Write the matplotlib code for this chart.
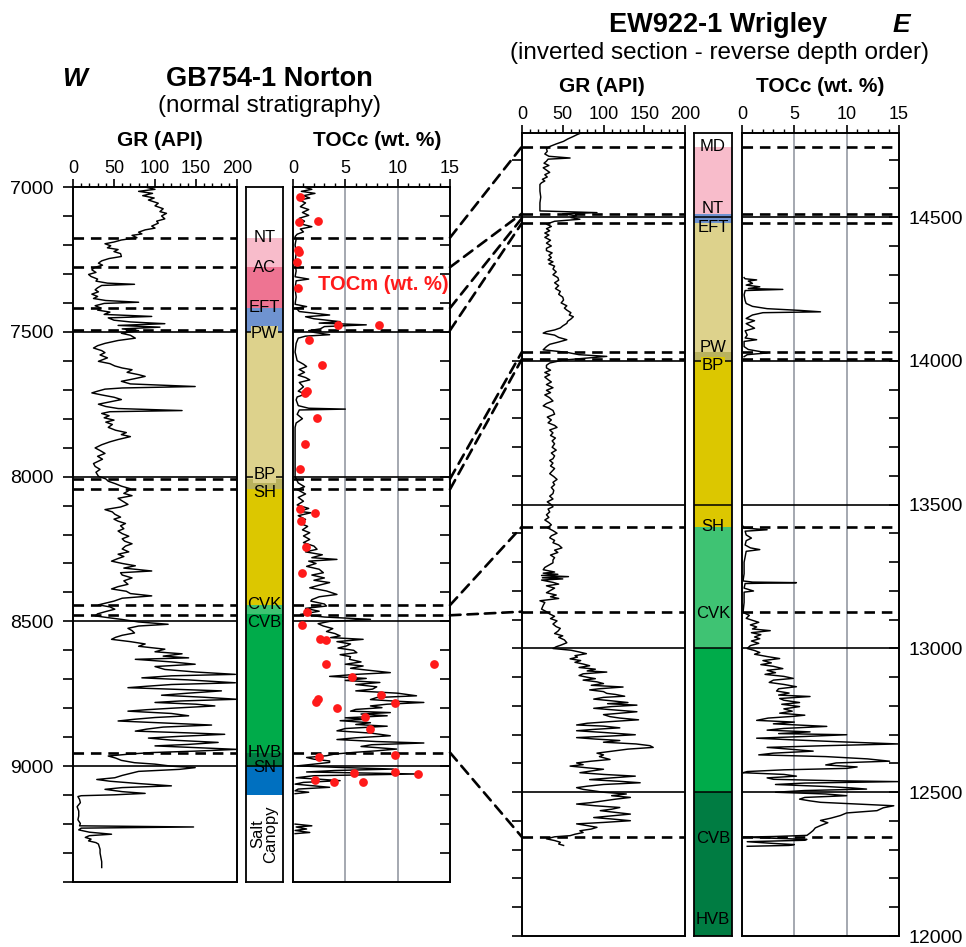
import matplotlib
matplotlib.use("Agg")
import matplotlib.pyplot as plt
from matplotlib import font_manager
from matplotlib.patches import ConnectionPatch
from matplotlib.ticker import MultipleLocator, FuncFormatter
import numpy as np

plt.rcParams['font.family'] = ['Liberation Sans', 'DejaVu Sans']
_names = {f.name for f in font_manager.fontManager.ttflist}
if 'Liberation Sans Narrow' in _names:
    NARROW, NSCALE = 'Liberation Sans Narrow', 1.15
else:
    NARROW, NSCALE = 'Liberation Sans', 1.0

# ---------------- data: GB754-1 Norton (left well) ----------------
LEFT_GR = [
    (7000, 88), (7008, 100), (7015, 80), (7022, 97), (7030, 85), (7038, 99), (7045, 92), (7056, 104),
    (7065, 100), (7075, 110), (7085, 106), (7091, 114), (7100, 108), (7110, 112), (7118, 102), (7125, 104),
    (7135, 96), (7142, 100), (7148, 88), (7156, 80), (7162, 84), (7167, 72), (7175, 78), (7183, 59),
    (7190, 50), (7196, 39), (7203, 46), (7210, 42), (7216, 55), (7223, 50), (7230, 58), (7240, 59),
    (7247, 44), (7255, 35), (7263, 31), (7270, 36), (7278, 26), (7286, 23), (7295, 28), (7302, 19),
    (7309, 22), (7318, 30), (7325, 28), (7332, 42), (7336, 75), (7340, 35), (7348, 30), (7355, 27),
    (7362, 31), (7370, 23), (7378, 30), (7385, 25), (7392, 40), (7398, 80), (7402, 38), (7410, 27),
    (7418, 34), (7425, 30), (7432, 45), (7440, 38), (7447, 96), (7452, 43), (7460, 50), (7466, 70),
    (7472, 112), (7478, 55), (7484, 106), (7490, 60), (7496, 80), (7505, 59), (7512, 70), (7522, 76),
    (7530, 55), (7540, 39), (7548, 30), (7556, 25), (7565, 35), (7572, 39), (7580, 33), (7590, 42),
    (7602, 31), (7610, 45), (7618, 51), (7625, 60), (7631, 72), (7640, 66), (7648, 80), (7654, 88),
    (7662, 75), (7671, 59), (7680, 70), (7689, 149), (7694, 60), (7698, 39), (7705, 30), (7711, 23),
    (7718, 35), (7726, 50), (7734, 59), (7742, 45), (7750, 31), (7758, 40), (7765, 55), (7772, 133),
    (7776, 45), (7782, 35), (7790, 44), (7797, 38), (7805, 50), (7812, 40), (7820, 48), (7830, 43),
    (7840, 52), (7848, 65), (7855, 59), (7862, 70), (7872, 55), (7880, 45), (7890, 35), (7901, 27),
    (7910, 33), (7920, 39), (7930, 30), (7940, 36), (7947, 31), (7955, 25), (7965, 27), (7975, 33),
    (7985, 28), (7999, 31), (8008, 40), (8016, 43), (8025, 52), (8033, 59), (8042, 70), (8050, 67),
    (8058, 62), (8066, 72), (8075, 55), (8084, 60), (8096, 67), (8105, 58), (8114, 39), (8122, 48),
    (8130, 51), (8140, 58), (8147, 50), (8154, 55), (8162, 64), (8170, 58), (8180, 62), (8188, 55),
    (8197, 60), (8206, 68), (8215, 60), (8223, 63), (8232, 72), (8240, 64), (8250, 60), (8260, 68),
    (8268, 55), (8276, 62), (8284, 54), (8292, 47), (8300, 60), (8308, 76), (8316, 62), (8326, 96),
    (8332, 58), (8340, 60), (8350, 72), (8360, 62), (8372, 67), (8380, 55), (8388, 47), (8396, 65),
    (8404, 70), (8412, 96), (8420, 60), (8430, 50), (8437, 40), (8443, 31), (8450, 45), (8458, 51),
    (8466, 40), (8474, 30), (8481, 27), (8488, 45), (8493, 59), (8502, 80), (8510, 116), (8516, 80),
    (8524, 67), (8532, 72), (8540, 75), (8548, 60), (8555, 52), (8562, 47), (8570, 70), (8578, 88),
    (8586, 80), (8596, 112), (8605, 100), (8612, 133), (8620, 110), (8626, 141), (8631, 76), (8640, 120),
    (8648, 149), (8656, 100), (8666, 112), (8675, 150), (8683, 198), (8688, 120), (8695, 84), (8702, 140),
    (8712, 198), (8718, 120), (8724, 90), (8729, 67), (8735, 130), (8740, 181), (8748, 140), (8755, 108),
    (8762, 160), (8769, 200), (8775, 130), (8780, 100), (8786, 150), (8792, 173), (8800, 120), (8805, 90),
    (8810, 67), (8818, 120), (8826, 141), (8832, 100), (8838, 75), (8844, 55), (8852, 120), (8858, 169),
    (8865, 110), (8872, 90), (8879, 76), (8885, 140), (8890, 185), (8897, 130), (8903, 92), (8910, 120),
    (8918, 177), (8925, 140), (8930, 100), (8936, 150), (8942, 200), (8948, 150), (8953, 96), (8958, 70),
    (8965, 43), (8972, 52), (8980, 59), (8988, 75), (8993, 100), (9000, 120), (9005, 149), (9011, 130),
    (9018, 80), (9025, 70), (9032, 60), (9040, 51), (9046, 29), (9052, 45), (9060, 80), (9068, 120),
    (9074, 60), (9080, 39), (9088, 60), (9094, 88), (9099, 50), (9102, 10), (9105, 6), (9115, 8),
    (9126, 9), (9140, 5), (9155, 7), (9172, 7), (9185, 6), (9198, 9), (9206, 8), (9210, 147),
    (9214, 10), (9220, 7), (9228, 20), (9235, 47), (9240, 20), (9246, 15), (9252, 22), (9258, 19),
    (9264, 28), (9269, 31), (9278, 32), (9287, 33), (9300, 33), (9315, 34), (9330, 35), (9350, 35),
]

LEFT_TOC = [
    (7000, 1.0), (7008, 1.8), (7015, 0.8), (7022, 2.1), (7030, 1.0), (7038, 1.6), (7045, 0.6), (7055, 1.2),
    (7068, 0.7), (7078, 1.5), (7088, 0.9), (7098, 1.5), (7108, 0.6), (7118, 1.1), (7128, 0.8), (7137, 1.8),
    (7145, 0.7), (7155, 1.0), (7163, 0.4), (7171, 0.2), (7180, 0.3), (7200, 0.2), (7230, 0.3), (7260, 0.2),
    (7290, 0.3), (7310, 0.2), (7318, 1.5), (7324, 0.3), (7350, 0.2), (7380, 0.3), (7405, 0.2), (7413, 1.3),
    (7418, 0.3), (7430, 0.6), (7442, 3.5), (7448, 1.2), (7455, 2.0), (7465, 4.5), (7470, 2.5), (7476, 7.0),
    (7482, 3.0), (7490, 2.6), (7496, 1.5), (7502, 2.0), (7510, 3.5), (7515, 1.2), (7522, 0.5), (7540, 0.3),
    (7570, 0.2), (7600, 0.4), (7612, 1.0), (7620, 1.3), (7630, 0.6), (7640, 1.1), (7650, 0.5), (7658, 1.2),
    (7666, 1.6), (7675, 0.6), (7690, 1.0), (7705, 0.5), (7715, 1.2), (7725, 0.4), (7735, 0.3), (7755, 0.5),
    (7764, 1.5), (7767, 5.0), (7770, 0.6), (7785, 0.4), (7800, 0.9), (7815, 0.3), (7830, 0.2), (7880, 0.2),
    (7950, 0.2), (8000, 0.2), (8022, 0.5), (8035, 1.1), (8045, 0.4), (8060, 1.2), (8072, 0.5), (8085, 1.0),
    (8098, 0.4), (8110, 1.5), (8120, 0.6), (8125, 1.7), (8135, 0.5), (8148, 1.2), (8160, 0.6), (8172, 1.4),
    (8184, 0.9), (8194, 1.6), (8205, 1.0), (8217, 1.6), (8228, 1.0), (8240, 2.0), (8251, 2.3), (8260, 1.2),
    (8270, 2.8), (8280, 1.8), (8286, 4.2), (8292, 1.5), (8300, 2.2), (8310, 1.3), (8320, 2.5), (8332, 2.9),
    (8340, 1.8), (8350, 3.0), (8358, 2.0), (8366, 3.5), (8375, 2.5), (8384, 1.6), (8395, 3.2), (8407, 4.2),
    (8415, 2.5), (8425, 1.8), (8430, 1.7), (8440, 3.0), (8447, 3.2), (8455, 1.2), (8465, 2.5), (8476, 0.7),
    (8485, 3.0), (8493, 7.4), (8500, 3.5), (8508, 2.4), (8516, 2.9), (8525, 3.8), (8535, 3.2), (8542, 4.0),
    (8550, 4.5), (8556, 3.6), (8562, 6.7), (8570, 4.2), (8578, 5.5), (8585, 5.1), (8592, 4.3), (8600, 5.8),
    (8608, 6.1), (8615, 4.5), (8622, 5.5), (8631, 5.4), (8640, 6.5), (8648, 5.0), (8654, 6.7), (8662, 5.5),
    (8670, 7.5), (8677, 9.3), (8683, 6.0), (8690, 3.5), (8697, 7.0), (8704, 5.0), (8711, 8.3), (8718, 6.0),
    (8726, 8.0), (8734, 7.6), (8740, 6.0), (8748, 10.0), (8757, 11.8), (8763, 8.0), (8770, 7.4), (8776, 10.0),
    (8780, 12.5), (8786, 9.0), (8792, 7.4), (8798, 8.5), (8804, 6.0), (8810, 5.5), (8815, 9.3), (8820, 6.5),
    (8826, 9.0), (8833, 5.0), (8838, 7.0), (8843, 4.5), (8850, 7.4), (8856, 6.0), (8862, 9.0), (8870, 5.0),
    (8878, 4.2), (8886, 7.5), (8895, 9.3), (8902, 6.0), (8908, 4.2), (8915, 8.0), (8920, 12.5), (8926, 7.5),
    (8932, 6.5), (8941, 9.9), (8947, 8.0), (8952, 6.0), (8958, 4.0), (8964, 3.2), (8970, 1.3), (8976, 2.0),
    (8982, 3.5), (8987, 3.5), (8993, 2.0), (8999, 0.4), (9005, 5.0), (9010, 9.6), (9015, 4.0), (9020, 1.3),
    (9027, 11.8), (9033, 2.0), (9040, 0.3), (9045, 2.5), (9050, 4.5), (9056, 1.0), (9062, 0.2), (9068, 2.0),
    (9073, 3.5), (9079, 0.5), (9085, 0.2), (9090, 1.5), (9095, 0.2),
]
LEFT_TOC_SALT = [(9200, 0.2), (9206, 1.8), (9210, 0.3), (9217, 1.3), (9222, 0.2), (9229, 1.6), (9233, 0.2)]

LEFT_TOCM = [
    (7033, 0.7), (7122, 0.6), (7118, 2.4), (7217, 0.5), (7223, 0.6), (7258, 0.4), (7350, 0.5), (7476, 4.3),
    (7476, 8.2), (7528, 1.5), (7616, 2.8), (7706, 1.3), (7712, 1.1), (7796, 2.3), (7886, 1.1), (7975, 0.7),
    (8112, 0.7), (8125, 2.1), (8154, 0.8), (8242, 1.2), (8334, 0.9), (8468, 1.3), (8514, 0.9), (8562, 2.6),
    (8565, 3.2), (8648, 3.2), (8646, 13.5), (8692, 5.6), (8755, 8.4), (8778, 2.2), (8769, 2.4), (8782, 9.7),
    (8800, 4.2), (8830, 6.9), (8872, 7.4), (8962, 9.7), (8970, 2.5), (9025, 5.8), (9019, 9.7), (9027, 11.9),
    (9048, 2.1), (9056, 3.9), (9053, 6.7),
]

LEFT_TOPS = [7175, 7277, 7418, 7495, 8008, 8044, 8444, 8479, 8953]
LEFT_UNITS = [  # (top, base, colour)
    (7175, 7277, '#f8bccb'), (7277, 7418, '#ee7492'), (7418, 7500, '#6f93d0'), (7500, 8008, '#ddd28c'),
    (8008, 8044, '#b9b25e'), (8044, 8444, '#dcc700'), (8444, 8503, '#3fc373'), (8503, 8953, '#00ab4a'),
    (8953, 9003, '#007c42'), (9003, 9100, '#0070c0'),
]
# (depth, name, vertical anchor)
LEFT_LABELS = [(7176, 'NT', 'center'), (7279, 'AC', 'center'), (7417, 'EFT', 'center'), (7507, 'PW', 'center'),
               (7993, 'BP', 'center'), (8055, 'SH', 'center'), (8441, 'CVK', 'center'), (8503, 'CVB', 'center'),
               (8977, 'HVB', 'bottom'), (8977, 'SN', 'top')]
LEFT_LINES = [7500, 8000, 8500, 9000]

# ---------------- data: EW922-1 Wrigley (right well) ----------------
RIGHT_GR = [
    (14796, 75), (14788, 68), (14781, 63), (14772, 56), (14764, 51), (14755, 42), (14746, 34), (14738, 30),
    (14729, 31), (14720, 28), (14712, 33), (14706, 59), (14702, 32), (14695, 30), (14688, 27), (14680, 33),
    (14672, 26), (14664, 30), (14656, 34), (14648, 28), (14640, 31), (14632, 25), (14626, 28), (14620, 24),
    (14614, 22), (14600, 22), (14591, 22), (14570, 23), (14550, 22), (14530, 22), (14522, 22), (14516, 92),
    (14512, 50), (14505, 67), (14499, 60), (14493, 71), (14486, 40), (14476, 30), (14468, 36), (14460, 30),
    (14453, 34), (14445, 28), (14438, 33), (14430, 28), (14420, 35), (14410, 30), (14400, 36), (14392, 30),
    (14384, 30), (14376, 37), (14368, 33), (14360, 36), (14352, 32), (14345, 38), (14338, 33), (14330, 40),
    (14320, 38), (14310, 42), (14300, 38), (14290, 44), (14281, 45), (14272, 40), (14262, 45), (14252, 41),
    (14242, 47), (14232, 45), (14222, 50), (14212, 51), (14202, 48), (14192, 55), (14184, 52), (14177, 55),
    (14168, 60), (14160, 58), (14154, 63), (14146, 60), (14138, 56), (14131, 55), (14122, 50), (14115, 47),
    (14108, 40), (14102, 30), (14097, 26), (14090, 40), (14082, 45), (14074, 55), (14066, 45), (14058, 34),
    (14050, 30), (14039, 26), (14030, 55), (14022, 70), (14016, 104), (14010, 79), (14003, 50), (13993, 34),
    (13985, 30), (13976, 30), (13968, 35), (13960, 28), (13952, 34), (13944, 28), (13935, 32), (13927, 36),
    (13918, 30), (13907, 38), (13898, 30), (13890, 35), (13882, 28), (13872, 34), (13861, 38), (13852, 30),
    (13844, 26), (13836, 33), (13828, 38), (13815, 40), (13805, 31), (13795, 36), (13785, 32), (13776, 40),
    (13769, 43), (13760, 34), (13750, 38), (13741, 35), (13732, 41), (13722, 37), (13712, 40), (13700, 37),
    (13690, 42), (13680, 36), (13670, 40), (13660, 38), (13654, 34), (13645, 38), (13635, 35), (13626, 40),
    (13617, 37), (13608, 34), (13598, 39), (13588, 43), (13578, 38), (13570, 40), (13560, 36), (13550, 39),
    (13539, 38), (13530, 34), (13520, 38), (13510, 31), (13500, 36), (13493, 38), (13485, 32), (13475, 34),
    (13465, 30), (13456, 33), (13447, 28), (13438, 33), (13430, 36), (13420, 31), (13410, 38), (13401, 43),
    (13392, 36), (13385, 34), (13376, 40), (13368, 38), (13360, 45), (13350, 49), (13342, 40), (13334, 44),
    (13325, 35), (13316, 40), (13308, 38), (13298, 38), (13290, 33), (13282, 28), (13274, 26), (13266, 40),
    (13262, 26), (13258, 44), (13254, 24), (13250, 57), (13246, 25), (13242, 50), (13238, 24), (13230, 38),
    (13224, 45), (13218, 30), (13210, 40), (13202, 35), (13194, 30), (13186, 42), (13180, 35), (13174, 45),
    (13166, 22), (13160, 28), (13150, 26), (13137, 24), (13128, 30), (13120, 34), (13112, 40), (13104, 35),
    (13096, 43), (13085, 38), (13076, 42), (13070, 47), (13060, 44), (13052, 40), (13044, 50), (13039, 45),
    (13030, 52), (13020, 55), (13012, 48), (13006, 42), (13000, 38), (12994, 60), (12988, 70), (12982, 79),
    (12975, 65), (12970, 68), (12964, 59), (12958, 72), (12952, 65), (12946, 75), (12940, 83), (12934, 70),
    (12928, 90), (12922, 80), (12918, 104), (12912, 75), (12906, 70), (12900, 80), (12895, 90), (12890, 75),
    (12884, 92), (12878, 100), (12872, 85), (12866, 124), (12860, 95), (12856, 83), (12850, 100), (12844, 104),
    (12840, 115), (12834, 126), (12830, 100), (12824, 88), (12818, 110), (12812, 130), (12808, 105), (12803, 141),
    (12798, 110), (12792, 88), (12786, 115), (12780, 141), (12775, 120), (12770, 100), (12763, 108), (12758, 120),
    (12752, 143), (12746, 110), (12740, 80), (12734, 67), (12730, 100), (12724, 120), (12719, 90), (12714, 67),
    (12708, 100), (12700, 139), (12695, 105), (12690, 67), (12685, 90), (12680, 120), (12674, 100), (12668, 140),
    (12662, 157), (12656, 161), (12650, 130), (12642, 108), (12636, 92), (12630, 100), (12624, 95), (12614, 108),
    (12608, 85), (12602, 67), (12596, 75), (12591, 59), (12585, 80), (12580, 100), (12574, 85), (12568, 71),
    (12562, 100), (12556, 139), (12550, 110), (12544, 83), (12538, 120), (12533, 145), (12527, 100), (12521, 80),
    (12516, 67), (12510, 75), (12505, 88), (12500, 100), (12494, 128), (12488, 110), (12482, 133), (12476, 115),
    (12470, 100), (12464, 85), (12459, 67), (12453, 90), (12447, 120), (12441, 110), (12436, 96), (12430, 115),
    (12424, 133), (12418, 110), (12412, 88), (12407, 110), (12401, 133), (12395, 100), (12390, 67), (12384, 80),
    (12378, 92), (12372, 85), (12366, 71), (12360, 75), (12354, 65), (12349, 59), (12345, 40), (12338, 30),
    (12332, 40), (12326, 47), (12320, 45), (12315, 51),
]

RIGHT_TOC_UPPER = [
    (14290, 0.2), (14286, 0.3), (14282, 1.4), (14278, 0.6), (14270, 1.0), (14264, 0.4), (14258, 1.7), (14252, 0.6),
    (14249, 3.9), (14245, 0.3), (14230, 0.2), (14210, 0.3), (14200, 0.4), (14190, 1.0), (14182, 2.4), (14176, 5.5),
    (14171, 7.5), (14168, 2.0), (14160, 1.0), (14148, 0.4), (14140, 1.2), (14130, 0.4), (14120, 0.9), (14114, 1.2),
    (14105, 0.3), (14090, 0.5), (14080, 0.3), (14074, 1.4), (14068, 0.2), (14050, 0.2), (14040, 0.6), (14033, 1.7),
    (14028, 2.4), (14022, 0.5), (14015, 0.2),
]
RIGHT_TOC_LOWER = [
    (13425, 0.1), (13419, 0.2), (13413, 2.4), (13408, 0.3), (13395, 0.4), (13384, 0.9), (13375, 0.4), (13360, 0.3),
    (13350, 0.8), (13344, 1.7), (13338, 0.4), (13300, 0.2), (13260, 0.2), (13235, 0.1), (13231, 1.0), (13229, 5.2),
    (13226, 0.3), (13210, 0.2), (13200, 1.1), (13196, 0.2), (13160, 0.2), (13126, 0.1), (13115, 0.7), (13105, 0.4),
    (13098, 1.0), (13091, 1.6), (13082, 0.8), (13075, 1.4), (13068, 1.0), (13062, 2.7), (13055, 0.9), (13048, 1.8),
    (13040, 1.2), (13034, 1.7), (13026, 0.9), (13018, 1.6), (13010, 0.8), (13000, 0.5), (12993, 1.2), (12986, 1.7),
    (12980, 1.2), (12972, 2.4), (12965, 3.6), (12958, 2.0), (12950, 2.8), (12944, 1.8), (12938, 3.0), (12930, 3.9),
    (12924, 2.4), (12916, 3.2), (12910, 2.2), (12903, 4.0), (12896, 4.9), (12890, 3.0), (12882, 2.6), (12875, 4.0),
    (12867, 5.2), (12860, 3.5), (12852, 3.3), (12845, 4.5), (12838, 3.5), (12833, 6.5), (12826, 3.6), (12820, 4.0),
    (12812, 5.5), (12806, 3.8), (12798, 5.5), (12790, 4.0), (12782, 4.8), (12775, 3.6), (12768, 6.0), (12764, 4.9),
    (12758, 2.5), (12750, 1.4), (12744, 5.0), (12738, 3.0), (12729, 8.1), (12722, 4.0), (12716, 2.4), (12710, 6.5),
    (12704, 3.5), (12700, 10.0), (12694, 6.0), (12688, 1.4), (12682, 5.0), (12676, 9.0), (12672, 12.0), (12668, 14.9),
    (12662, 8.0), (12656, 2.4), (12650, 4.5), (12643, 6.8), (12636, 3.0), (12630, 1.6), (12624, 8.0), (12616, 12.0),
    (12608, 14.1), (12602, 9.0), (12595, 8.0), (12588, 11.0), (12583, 10.0), (12578, 4.0), (12572, 0.5), (12568, 0.1),
    (12562, 4.0), (12556, 5.2), (12550, 2.4), (12545, 3.0), (12540, 9.0), (12537, 14.9), (12532, 6.0), (12527, 3.2),
    (12520, 8.0), (12515, 10.5), (12511, 11.9), (12506, 6.0), (12500, 3.2), (12494, 8.0), (12488, 10.0), (12482, 6.0),
    (12476, 5.5), (12470, 6.5), (12465, 7.5), (12458, 11.5), (12453, 14.5), (12446, 13.5), (12436, 12.9), (12428, 10.0),
    (12419, 9.4), (12410, 8.5), (12402, 7.5), (12394, 8.2), (12384, 7.5), (12376, 7.0), (12367, 6.8), (12358, 6.5),
    (12350, 6.2), (12346, 3.0), (12344, 0.1), (12340, 3.0), (12336, 6.2), (12333, 6.0), (12328, 0.5), (12322, 3.0),
    (12318, 5.0), (12315, 4.5), (12312, 0.5),
]

RIGHT_TOPS = [14746, 14513, 14480, 14032, 14007, 13424, 13128, 12344]
RIGHT_UNITS = [
    (14746, 14513, '#f8bccb'), (14513, 14480, '#6f93d0'), (14480, 14032, '#ddd28c'), (14032, 14000, '#b9b25e'),
    (14000, 13424, '#dcc700'), (13424, 13000, '#3fc373'), (13000, 12500, '#00ab4a'), (12500, 12000, '#007c42'),
]
RIGHT_LABELS = [(14745, 'MD', 'center'), (14530, 'NT', 'center'), (14466, 'EFT', 'center'),
                (14048, 'PW', 'center'), (13986, 'BP', 'center'), (13424, 'SH', 'center'),
                (13121, 'CVK', 'center'), (12338, 'CVB', 'center'), (12059, 'HVB', 'center')]
RIGHT_LINES = [12500, 13000, 13500, 14000, 14500]

# correlation pairs: (Norton depth, Wrigley depth)
CORRELATION = [(7175, 14746), (7277, 14513), (7418, 14497), (7495, 14480), (8008, 14032), (8044, 14007),
               (8444, 13424), (8479, 13128), (8953, 12344)]

LEFT_RANGE = (9400, 7000)
RIGHT_RANGE = (12000, 14793)

# ---------------- figure ----------------
W, H = 966, 947
fig = plt.figure(figsize=(W / 100, H / 100), dpi=100)


def px_axes(x0, y0, x1, y1):
    return fig.add_axes([x0 / W, 1 - y1 / H, (x1 - x0) / W, (y1 - y0) / H])


DASH = (0, (4, 2.6))
CURVE_LW = 1.05


def style_track(ax, xmax, major, minor, ylim):
    ax.set_xlim(0, xmax)
    ax.set_ylim(*ylim)
    ax.xaxis.tick_top()
    ax.xaxis.set_major_locator(MultipleLocator(major))
    ax.xaxis.set_minor_locator(MultipleLocator(minor))
    ax.tick_params(axis='x', which='major', direction='out', length=6, width=1.2, pad=1,
                   labelsize=13 * NSCALE, labelfontfamily=NARROW)
    ax.tick_params(axis='x', which='minor', direction='out', length=3, width=1)
    ax.yaxis.set_major_locator(MultipleLocator(100))
    for s in ax.spines.values():
        s.set_linewidth(1.4)


def depth_fmt(v, pos):
    return f"{int(round(v))}" if round(v) % 500 == 0 else ""


def style_column(ax, ylim, units, labels, lines):
    ax.set_xlim(0, 1)
    ax.set_ylim(*ylim)
    ax.set_xticks([])
    ax.set_yticks([])
    for s in ax.spines.values():
        s.set_linewidth(1.3)
    for top, base, c in units:
        ax.axhspan(top, base, color=c, lw=0)
    for d in lines:
        ax.axhline(d, color='k', lw=1.1)
    tr = ax.get_yaxis_transform()
    for d, name, va in labels:
        bg = None
        if va == 'center' and any(abs(d - l) < 25 for l in lines):
            for top, base, c in units:
                if min(top, base) <= d + 12 <= max(top, base) or min(top, base) <= d - 12 <= max(top, base):
                    bg = c
        ax.text(0.5, d, name, transform=tr, ha='center', va=va, fontsize=12 * NSCALE, family=NARROW,
                bbox=dict(boxstyle='square,pad=0.03', fc=bg, ec='none') if bg else None)


# ----- left well -----
ax_gr_l = px_axes(73, 187, 237, 882)
style_track(ax_gr_l, 200, 50, 10, LEFT_RANGE)
ax_gr_l.yaxis.set_major_formatter(FuncFormatter(depth_fmt))
ax_gr_l.tick_params(axis='y', direction='out', length=7, width=1.2, pad=7,
                    labelsize=14 * NSCALE, labelfontfamily=NARROW)
d, v = np.array(LEFT_GR).T
ax_gr_l.plot(v, d, color='k', lw=CURVE_LW)

ax_col_l = px_axes(246, 187, 283, 882)
style_column(ax_col_l, LEFT_RANGE, LEFT_UNITS, LEFT_LABELS, LEFT_LINES)
ax_col_l.text(0.5, 9234, 'Salt\nCanopy', transform=ax_col_l.get_yaxis_transform(), rotation=90,
              ha='center', va='center', fontsize=12 * NSCALE, family=NARROW, linespacing=0.85)

ax_toc_l = px_axes(293, 187, 450, 882)
style_track(ax_toc_l, 15, 5, 1, LEFT_RANGE)
ax_toc_l.yaxis.tick_right()
ax_toc_l.tick_params(axis='y', direction='in', length=7, width=1.2, labelright=False)
for x in (5, 10):
    ax_toc_l.axvline(x, color='#9da1aa', lw=1.3, zorder=1)
d, v = np.array(LEFT_TOC).T
ax_toc_l.plot(v, d, color='k', lw=CURVE_LW)
d, v = np.array(LEFT_TOC_SALT).T
ax_toc_l.plot(v, d, color='k', lw=CURVE_LW)
d, v = np.array(LEFT_TOCM).T
ax_toc_l.plot(v, d, 'o', color='#ff1a1a', ms=6.3, mec='none', zorder=5)
ax_toc_l.text(8.6, 7338, 'TOCm (wt. %)', color='#ff1a1a', fontsize=14.5, fontweight='bold',
              ha='center', va='center')

for ax in (ax_gr_l, ax_toc_l):
    for dd in LEFT_LINES:
        ax.axhline(dd, color='k', lw=1.2)
    for dd in LEFT_TOPS:
        ax.axhline(dd, color='k', lw=1.9, ls=DASH)

# ----- right well -----
R_TOP, R_BOT = 133, 936
ax_gr_r = px_axes(522, R_TOP, 685, R_BOT)
style_track(ax_gr_r, 200, 50, 10, RIGHT_RANGE)
ax_gr_r.tick_params(axis='y', direction='out', length=7, width=1.2, labelleft=False)
d, v = np.array(RIGHT_GR).T
ax_gr_r.plot(v, d, color='k', lw=CURVE_LW)

ax_col_r = px_axes(694, R_TOP, 732, R_BOT)
style_column(ax_col_r, RIGHT_RANGE, RIGHT_UNITS, RIGHT_LABELS, RIGHT_LINES)

ax_toc_r = px_axes(742, R_TOP, 899, R_BOT)
style_track(ax_toc_r, 15, 5, 1, RIGHT_RANGE)
ax_toc_r.yaxis.tick_right()
ax_toc_r.yaxis.set_major_formatter(FuncFormatter(depth_fmt))
ax_toc_r.tick_params(axis='y', direction='in', length=7, width=1.2, pad=7,
                     labelsize=14 * NSCALE, labelfontfamily=NARROW)
for x in (5, 10):
    ax_toc_r.axvline(x, color='#9da1aa', lw=1.3, zorder=1)
d, v = np.array(RIGHT_TOC_UPPER).T
ax_toc_r.plot(v, d, color='k', lw=CURVE_LW)
d, v = np.array(RIGHT_TOC_LOWER).T
ax_toc_r.plot(v, d, color='k', lw=CURVE_LW)

for ax in (ax_gr_r, ax_toc_r):
    for dd in RIGHT_LINES:
        ax.axhline(dd, color='k', lw=1.2)
    for dd in RIGHT_TOPS:
        ax.axhline(dd, color='k', lw=1.9, ls=DASH)

# ----- correlation lines -----
for dl, dr in CORRELATION:
    con = ConnectionPatch(xyA=(15, dl), coordsA=ax_toc_l.transData, xyB=(0, dr), coordsB=ax_gr_r.transData,
                          color='k', lw=1.9, ls=DASH)
    fig.add_artist(con)


# ----- titles -----
def ftext(x, y, s, **kw):
    fig.text(x / W, 1 - y / H, s, ha='center', va='center', **kw)


ftext(75, 79, 'W', fontsize=19, fontweight='bold', style='italic')
ftext(269, 79, 'GB754-1 Norton', fontsize=19.5, fontweight='bold')
ftext(269, 106, '(normal stratigraphy)', fontsize=17.5)
ftext(160, 141, 'GR (API)', fontsize=15, fontweight='bold')
ftext(377, 141, 'TOCc (wt. %)', fontsize=15, fontweight='bold')
ftext(718, 25, 'EW922-1 Wrigley', fontsize=19.5, fontweight='bold')
ftext(901, 25, 'E', fontsize=19, fontweight='bold', style='italic')
ftext(719, 53, '(inverted section - reverse depth order)', fontsize=17.5)
ftext(602, 87, 'GR (API)', fontsize=15, fontweight='bold')
ftext(820, 87, 'TOCc (wt. %)', fontsize=15, fontweight='bold')

fig.savefig('out.png', dpi=100)
